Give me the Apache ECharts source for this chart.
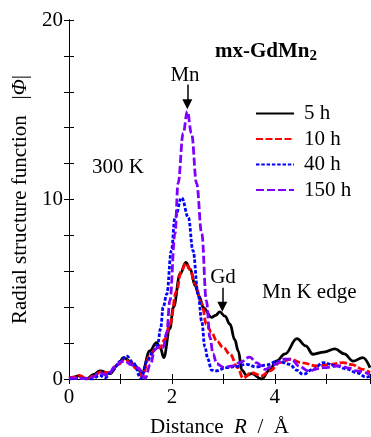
<!DOCTYPE html>
<html>
<head>
<meta charset="utf-8">
<script src="https://cdn.jsdelivr.net/npm/echarts@6/dist/echarts.min.js"></script>
<style>
html,body{margin:0;padding:0;background:#fff;}
#c{width:371px;height:437px;}
</style>
</head>
<body>
<div id="c"></div>
<script>
// ---- data ----
const seriesNames = ['5 h', '10 h', '40 h', '150 h'];

const r5h = [0, 0.1, 0.18, 0.34, 0.48, 0.6, 0.8, 0.95, 1.06, 1.18, 1.28, 1.42, 1.57, 1.70, 1.78, 1.84, 1.96, 2.03, 2.16, 2.27, 2.36, 2.45, 2.53, 2.61, 2.77, 2.85, 2.93, 3.03, 3.13, 3.22, 3.29, 3.36, 3.45, 3.55, 3.74, 3.9, 4.03, 4.2, 4.43, 4.6, 4.74, 4.95, 5.17, 5.35, 5.52, 5.71, 5.85];
const v5h = [0.05, 0.1, 0.17, 0.0, 0.25, 0.45, 0.3, 0.8, 1.19, 1.0, 0.73, 0.35, 1.56, 2.03, 1.7, 1.19, 2.8, 4.0, 5.85, 6.5, 6.1, 5.2, 4.6, 3.98, 3.43, 3.55, 3.74, 3.5, 3.05, 2.2, 1.56, 0.5, 0.2, 0.3, 0.0, 0.5, 1.0, 1.4, 2.25, 1.85, 1.38, 1.5, 1.68, 1.4, 1.0, 1.19, 0.63];

const r10h = [0, 0.1, 0.2, 0.35, 0.5, 0.62, 0.8, 0.95, 1.08, 1.2, 1.3, 1.42, 1.57, 1.70, 1.77, 1.86, 1.96, 2.09, 2.18, 2.27, 2.35, 2.45, 2.58, 2.67, 2.77, 2.87, 3.0, 3.13, 3.28, 3.38, 3.55, 3.74, 3.9, 4.1, 4.29, 4.54, 4.81, 5.05, 5.33, 5.5, 5.71, 5.85];
const v10h = [0.05, 0.1, 0.2, 0.02, 0.2, 0.4, 0.35, 0.8, 1.1, 0.9, 0.6, 0.15, 1.3, 1.75, 1.75, 2.2, 3.05, 4.9, 6.0, 6.45, 6.1, 5.3, 4.2, 3.05, 2.6, 2.12, 1.75, 1.38, 0.63, 0.05, 0.35, 0.17, 0.45, 0.91, 1.1, 0.9, 0.73, 0.8, 0.91, 0.8, 0.54, 0.35];

const r40h = [0, 0.15, 0.3, 0.45, 0.6, 0.7, 0.85, 1.0, 1.12, 1.25, 1.40, 1.52, 1.64, 1.72, 1.78, 1.83, 1.90, 1.99, 2.06, 2.19, 2.32, 2.41, 2.51, 2.58, 2.64, 2.70, 2.77, 2.85, 3.06, 3.25, 3.45, 3.64, 3.84, 4.06, 4.29, 4.42, 4.55, 4.75, 4.94, 5.2, 5.4, 5.59, 5.78, 5.85];
const v40h = [0.0, 0.02, 0.05, 0.0, 0.2, 0.07, 0.5, 1.0, 1.28, 0.9, 0.04, 1.0, 1.56, 1.9, 2.8, 4.0, 4.73, 7.15, 9.0, 10.1, 9.0, 7.15, 4.73, 3.2, 1.8, 1.1, 0.5, 0.45, 0.63, 0.7, 0.82, 0.67, 0.78, 1.0, 0.82, 0.5, 0.26, 0.55, 0.91, 0.73, 0.55, 0.35, 0.1, 0.15];

const r150h = [0, 0.15, 0.3, 0.45, 0.6, 0.75, 0.9, 1.0, 1.09, 1.2, 1.35, 1.48, 1.58, 1.67, 1.75, 1.83, 1.9, 1.96, 2.06, 2.12, 2.22, 2.30, 2.38, 2.48, 2.58, 2.67, 2.74, 2.80, 2.87, 3.0, 3.19, 3.32, 3.51, 3.65, 3.81, 4.0, 4.16, 4.32, 4.48, 4.65, 4.94, 5.26, 5.45, 5.59, 5.85];
const v150h = [0.05, 0.05, 0.02, 0.1, 0.35, 0.2, 0.7, 0.95, 1.0, 0.8, 0.6, 0.04, 0.8, 1.66, 1.8, 1.75, 2.6, 4.36, 8.1, 10.9, 13.7, 14.9, 13.7, 10.9, 8.1, 4.36, 2.3, 1.4, 0.85, 0.65, 0.73, 0.91, 1.22, 0.9, 0.54, 0.8, 1.1, 1.1, 0.7, 0.45, 0.63, 0.73, 0.6, 0.45, 0.26];

const xTickLabels = ['0', '2', '4'];
const yTickLabels = ['0', '10', '20'];

// annotation arrows (data coords)
const mnArrow = [[2.30, 16.4], [2.30, 15.3]];
const gdArrow = [[2.98, 5.08], [2.98, 4.02]];

// ---- chart ----
const FONT = 'Liberation Serif';
const chart = echarts.init(document.getElementById('c'), null, {renderer: 'canvas'});

function pairs(r, v) { return r.map((x, i) => [x, v[i]]); }

const lineStyles = [
  {color: '#000000', width: 2.8, type: 'solid'},
  {color: '#ff0000', width: 2.8, type: [7, 2.5]},
  {color: '#0000ff', width: 2.8, type: [3.5, 1.8]},
  {color: '#7f00ff', width: 2.8, type: [8, 3]}
];
const datas = [pairs(r5h, v5h), pairs(r10h, v10h), pairs(r40h, v40h), pairs(r150h, v150h)];

const series = seriesNames.map((n, i) => ({
  name: n,
  type: 'line',
  data: datas[i],
  showSymbol: false,
  symbol: 'none',
  smooth: 0.4,
  smoothMonotone: 'x',
  lineStyle: lineStyles[i],
  itemStyle: {color: lineStyles[i].color},
  z: 2 + i,
  animation: false
}));

// arrows via markLine on an empty helper series
series.push({
  type: 'line',
  data: [],
  silent: true,
  animation: false,
  markLine: {
    silent: true,
    animation: false,
    symbol: ['none', 'triangle'],
    symbolSize: [10, 10],
    label: {show: false},
    lineStyle: {color: '#000', width: 1.5, type: 'solid'},
    data: [
      [{coord: mnArrow[0]}, {coord: mnArrow[1]}],
      [{coord: gdArrow[0]}, {coord: gdArrow[1]}]
    ]
  }
});

const txt = {fontFamily: FONT, fontSize: 21, fill: '#000'};

chart.setOption({
  backgroundColor: '#fff',
  animation: false,
  grid: {left: 69, right: 1, top: 20, bottom: 58, containLabel: false, outerBoundsMode: 'none'},
  legend: {
    data: seriesNames,
    orient: 'vertical',
    left: 255,
    top: 102,
    padding: 0,
    itemWidth: 38,
    itemHeight: 14,
    itemGap: 2.5,
    itemStyle: {opacity: 0},
    textStyle: {fontFamily: FONT, fontSize: 21, color: '#000', padding: [0, 0, 0, 5], lineHeight: 23}
  },
  xAxis: [{
    type: 'value', min: 0, max: 5.85, interval: 1,
    position: 'bottom',
    name: 'Distance  {i|R}  /  Å',
    nameLocation: 'middle', nameGap: 38,
    nameTextStyle: {fontFamily: FONT, fontSize: 21, color: '#000',
      rich: {i: {fontFamily: FONT, fontSize: 21, fontStyle: 'italic', color: '#000'}}},
    axisLine: {show: true, lineStyle: {color: '#000', width: 1}},
    axisTick: {show: true, inside: true, length: 5, lineStyle: {color: '#000'}},
    axisLabel: {fontFamily: FONT, fontSize: 21, color: '#000', margin: 8,
      formatter: v => xTickLabels.indexOf(String(v)) >= 0 ? String(v) : ''},
    splitLine: {show: false}
  }, {
    type: 'value', min: 0, max: 5.85, interval: 1,
    position: 'top',
    axisLine: {show: true, lineStyle: {color: '#000', width: 1}},
    axisTick: {show: true, inside: true, length: 5, lineStyle: {color: '#000'}},
    axisLabel: {show: false},
    splitLine: {show: false}
  }],
  yAxis: [{
    type: 'value', min: 0, max: 20, interval: 2,
    position: 'left',
    name: 'Radial structure function   |{i|Φ}|',
    nameLocation: 'middle', nameGap: 37, nameRotate: 90,
    nameTextStyle: {fontFamily: FONT, fontSize: 21, color: '#000',
      rich: {i: {fontFamily: FONT, fontSize: 21, fontStyle: 'italic', color: '#000'}}},
    axisLine: {show: true, lineStyle: {color: '#000', width: 1}},
    axisTick: {show: true, inside: true, length: 5, lineStyle: {color: '#000'}},
    axisLabel: {fontFamily: FONT, fontSize: 21, color: '#000', margin: 6,
      formatter: v => yTickLabels.indexOf(String(v)) >= 0 ? String(v) : ''},
    splitLine: {show: false}
  }, {
    type: 'value', min: 0, max: 20, interval: 2,
    position: 'right',
    axisLine: {show: true, lineStyle: {color: '#000', width: 1}},
    axisTick: {show: true, inside: true, length: 5, lineStyle: {color: '#000'}},
    axisLabel: {show: false},
    splitLine: {show: false}
  }],
  series: series,
  graphic: [
    {type: 'text', left: 215, top: 41, z: 10, style: {
      text: '{b|mx-GdMn}{s|2}',
      rich: {
        b: {fontFamily: FONT, fontSize: 21, fontWeight: 'bold', color: '#000'},
        s: {fontFamily: FONT, fontSize: 15, fontWeight: 'bold', color: '#000', padding: [10, 0, 0, 0]}
      }
    }},
    {type: 'text', x: 185, y: 75, z: 10, style: Object.assign({text: 'Mn', align: 'center', verticalAlign: 'middle'}, txt)},
    {type: 'text', x: 92, y: 167, z: 10, style: Object.assign({text: '300 K', align: 'left', verticalAlign: 'middle'}, txt)},
    {type: 'text', x: 223, y: 277, z: 10, style: Object.assign({text: 'Gd', align: 'center', verticalAlign: 'middle'}, txt)},
    {type: 'text', x: 262, y: 292, z: 10, style: Object.assign({text: 'Mn K edge', align: 'left', verticalAlign: 'middle'}, txt)}
  ]
});
</script>
</body>
</html>
